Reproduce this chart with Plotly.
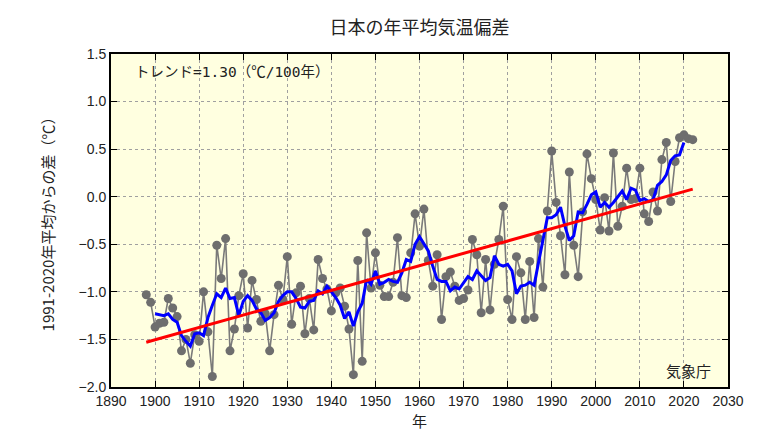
import plotly.graph_objects as go

# --- DATA (1991-2020 baseline) ---
years = list(range(1898, 2023))
anomaly = [
    -1.03, -1.11, -1.37, -1.33, -1.32, -1.07, -1.17, -1.26, -1.62, -1.50,  # 1898-1907
    -1.75, -1.45, -1.52, -1.00, -1.42, -1.89, -0.51, -0.86, -0.44, -1.62,  # 1908-1917
    -1.39, -1.04, -0.81, -1.38, -0.88, -1.08, -1.31, -1.23, -1.62, -1.24,  # 1918-1927
    -0.93, -1.08, -0.63, -1.34, -1.01, -0.94, -1.44, -1.07, -1.40, -0.66,  # 1928-1937
    -0.86, -0.97, -1.20, -1.01, -0.96, -1.15, -1.39, -1.87, -0.67, -1.73,  # 1938-1947
    -0.38, -0.96, -0.59, -0.93, -1.05, -1.05, -0.90, -0.43, -1.04, -1.06,  # 1948-1957
    -0.59, -0.18, -0.52, -0.13, -0.67, -0.94, -0.61, -1.29, -0.84, -0.79,  # 1958-1967
    -0.94, -1.09, -1.07, -0.98, -0.45, -0.61, -1.22, -0.66, -1.19, -0.71,  # 1968-1977
    -0.45, -0.10, -1.08, -1.29, -0.63, -0.80, -1.29, -0.68, -1.27, -0.44,  # 1978-1987
    -0.95, -0.15, 0.48, -0.06, -0.41, -0.82, 0.26, -0.51, -0.84, -0.16,    # 1988-1997
    0.45, 0.19, -0.03, -0.35, -0.01, -0.36, 0.46, -0.31, -0.10, 0.30,      # 1998-2007
    -0.03, -0.02, 0.30, -0.18, -0.26, 0.05, -0.15, 0.39, 0.57, -0.05,      # 2008-2017
    0.37, 0.62, 0.65, 0.61, 0.60,                                          # 2018-2022
]

# 5-year running mean (blue line), 1900-2020
mean_years = list(range(1900, 2021))
running_mean = [
    -1.23, -1.24, -1.25, -1.23, -1.29, -1.32, -1.46, -1.52, -1.57, -1.44,  # 1900-1909
    -1.43, -1.46, -1.27, -1.14, -1.02, -1.06, -0.96, -1.07, -1.06, -1.25,  # 1910-1919
    -1.10, -1.04, -1.09, -1.18, -1.22, -1.30, -1.27, -1.22, -1.10, -1.04,  # 1920-1929
    -1.00, -1.00, -1.07, -1.16, -1.17, -1.10, -1.09, -0.99, -1.02, -0.94,  # 1930-1939
    -1.00, -1.06, -1.14, -1.28, -1.21, -1.36, -1.21, -1.12, -0.87, -0.92,  # 1940-1949
    -0.78, -0.92, -0.90, -0.87, -0.89, -0.90, -0.80, -0.66, -0.68, -0.50,  # 1950-1959
    -0.42, -0.49, -0.57, -0.73, -0.87, -0.89, -0.89, -0.99, -0.95, -0.97,  # 1960-1969
    -0.91, -0.84, -0.87, -0.78, -0.83, -0.88, -0.85, -0.62, -0.71, -0.73,  # 1970-1979
    -0.71, -0.78, -1.02, -0.94, -0.93, -0.90, -0.93, -0.70, -0.47, -0.22,  # 1980-1989
    -0.22, -0.19, -0.11, -0.31, -0.46, -0.41, -0.16, -0.17, -0.08, 0.02,   # 1990-1999
    0.05, -0.11, -0.06, -0.11, -0.06, 0.00, 0.06, -0.03, 0.09, 0.07,       # 2000-2009
    -0.04, -0.02, -0.05, -0.03, 0.12, 0.16, 0.23, 0.38, 0.43, 0.44,        # 2010-2019
    0.57,                                                                  # 2020
]

# long-term trend (1.30 C / 100 years), end points
trend_years = [1898, 2022]
trend_values = [-1.53, 0.08]

FONT = "Noto Sans CJK JP"
TXT = "#222222"

fig = go.Figure()

fig.add_trace(
    go.Scatter(
        x=years,
        y=anomaly,
        mode="lines+markers",
        line=dict(color="#7a7a7a", width=1.6),
        marker=dict(color="#6e6e6e", size=9),
        name="年平均",
    )
)

fig.add_trace(
    go.Scatter(
        x=mean_years,
        y=running_mean,
        mode="lines",
        line=dict(color="#0000ff", width=3),
        name="5年移動平均",
    )
)

fig.add_trace(
    go.Scatter(
        x=trend_years,
        y=trend_values,
        mode="lines",
        line=dict(color="#ff0000", width=3),
        name="トレンド",
    )
)

axis_common = dict(
    showline=True,
    linecolor="black",
    linewidth=2,
    mirror="ticks",
    ticks="inside",
    ticklen=6,
    tickcolor="black",
    showgrid=True,
    gridcolor="#a0a0a0",
    gridwidth=1,
    griddash="dot",
    zeroline=False,
    tickfont=dict(family="Liberation Sans", size=14, color=TXT),
)

# page body has an 8px default margin, so margins are shifted to compensate
fig.update_layout(
    width=768,
    height=439,
    paper_bgcolor="white",
    plot_bgcolor="#ffffe0",
    showlegend=False,
    margin=dict(l=103, r=48, t=46, b=60, autoexpand=False),
    title=dict(
        text="日本の年平均気温偏差",
        xref="paper",
        x=0.5,
        xanchor="center",
        y=0.956,
        yanchor="middle",
        font=dict(family=FONT, size=18, color=TXT),
    ),
    xaxis=dict(
        range=[1890, 2030],
        dtick=10,
        tick0=1890,
        title=dict(text="年", font=dict(family=FONT, size=15, color=TXT), standoff=9),
        **axis_common,
    ),
    yaxis=dict(
        range=[-2.0, 1.5],
        dtick=0.5,
        tickformat=".1f",
        title=dict(
            text="1991-2020年平均からの差（℃）",
            font=dict(family=FONT, size=15, color=TXT),
            standoff=20,
        ),
        **axis_common,
    ),
    annotations=[
        dict(
            text="トレンド=1.30（℃/100年）",
            xref="paper",
            yref="paper",
            x=0.035,
            y=0.947,
            xanchor="left",
            yanchor="middle",
            showarrow=False,
            font=dict(family="DejaVu Sans Mono, " + FONT, size=14.5, color=TXT),
        ),
        dict(
            text="気象庁",
            xref="paper",
            yref="paper",
            x=0.975,
            y=0.05,
            xanchor="right",
            yanchor="middle",
            showarrow=False,
            font=dict(family=FONT, size=15, color=TXT),
        ),
    ],
)

fig.write_html("out.html")
